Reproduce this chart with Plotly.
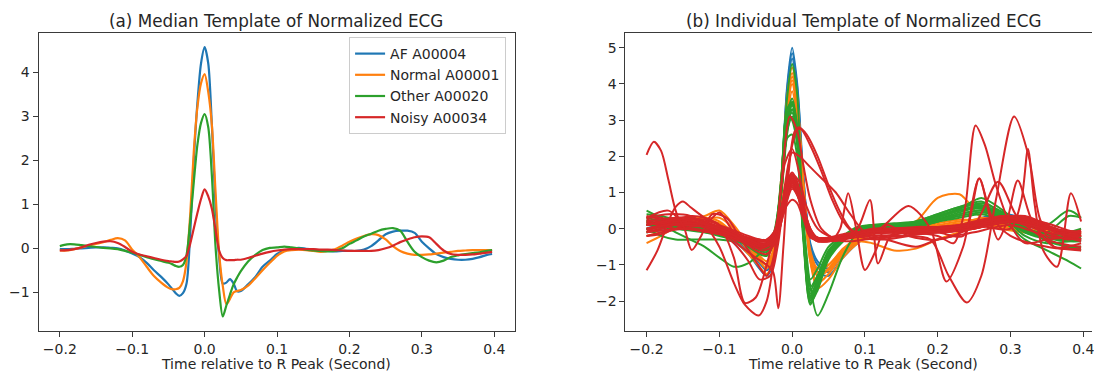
import plotly.graph_objects as go

# ---------------- (a) median templates ----------------
t_median = [-0.2, -0.19, -0.18, -0.17, -0.16, -0.15, -0.14, -0.13, -0.12, -0.11, -0.1, -0.09, -0.08, -0.07, -0.06, -0.05,
            -0.045, -0.04, -0.035, -0.03, -0.025, -0.02, -0.015, -0.01, -0.005,
            0.0, 0.005, 0.01, 0.015, 0.02, 0.025, 0.03, 0.035, 0.04, 0.045, 0.05,
            0.06, 0.07, 0.08, 0.09, 0.1, 0.11, 0.12, 0.13, 0.14, 0.15, 0.16, 0.17, 0.18, 0.19, 0.2, 0.21, 0.22,
            0.23, 0.24, 0.25, 0.26, 0.27, 0.28, 0.29, 0.3, 0.31, 0.32, 0.33, 0.34, 0.35, 0.36, 0.37, 0.38, 0.39,
            0.397]

af_median = [-0.02, -0.02, -0.01, 0.0, 0.01, 0.02, 0.02, 0.01, 0.0, -0.05, -0.12, -0.2, -0.33, -0.5, -0.65, -0.82,
             -0.92, -1.02, -1.08, -1.02, -0.8, 0.3, 2.0, 3.3, 4.2,
             4.57, 4.2, 2.8, 1.0, -0.2, -0.8, -0.78, -0.7, -0.8, -0.98, -0.97,
             -0.82, -0.65, -0.42, -0.28, -0.13, -0.05, -0.02, 0.01, -0.01, -0.03, -0.05, -0.06, -0.07, -0.06, -0.06,
             -0.06, -0.03, 0.05, 0.18, 0.32, 0.38, 0.4, 0.4, 0.35, 0.15, 0.0, -0.13, -0.2, -0.24, -0.26, -0.26,
             -0.24, -0.2, -0.15,
             -0.13]

normal_median = [-0.05, -0.05, -0.02, 0.02, 0.06, 0.1, 0.14, 0.19, 0.23, 0.18, -0.03, -0.2, -0.42, -0.63, -0.78, -0.9,
                 -0.93, -0.93, -0.9, -0.75, -0.3, 0.75, 2.2, 3.2, 3.75,
                 3.96, 3.55, 2.8, 1.3, -0.1, -0.85, -1.27, -1.15, -1.0, -0.97, -0.95,
                 -0.85, -0.68, -0.5, -0.33, -0.17, -0.07, -0.04, -0.03, -0.04, -0.06, -0.08, -0.06, -0.02, 0.06, 0.15,
                 0.22, 0.28, 0.32, 0.3, 0.2, 0.05, -0.06, -0.12, -0.15, -0.15, -0.14, -0.12, -0.1, -0.08, -0.06,
                 -0.05, -0.04, -0.04, -0.04,
                 -0.04]

other_median = [0.05, 0.09, 0.09, 0.07, 0.05, 0.03, 0.01, 0.0, -0.02, -0.06, -0.1, -0.15, -0.2, -0.25, -0.29, -0.33,
                -0.36, -0.4, -0.42, -0.38, -0.15, 0.6, 1.5, 2.35, 2.85,
                3.05, 2.75, 1.65, 0.05, -0.95, -1.55, -1.3, -1.05, -0.82, -0.66, -0.52,
                -0.3, -0.15, -0.04, 0.01, 0.02, 0.04, 0.02, 0.0, -0.03, -0.05, -0.06, -0.07, -0.06, 0.0, 0.1,
                0.18, 0.27, 0.33, 0.4, 0.44, 0.46, 0.4, 0.15, -0.08, -0.2, -0.28, -0.32, -0.28, -0.2, -0.16,
                -0.13, -0.11, -0.09, -0.06,
                -0.04]

noisy_median = [-0.05, -0.04, -0.02, 0.02, 0.08, 0.12, 0.15, 0.16, 0.12, 0.03, -0.08, -0.14, -0.18, -0.22, -0.26, -0.29,
                -0.3, -0.31, -0.3, -0.25, -0.17, 0.1, 0.45, 0.8, 1.12,
                1.34, 1.18, 0.9, 0.42, -0.05, -0.22, -0.27, -0.27, -0.27, -0.26, -0.26,
                -0.22, -0.17, -0.12, -0.08, -0.05, -0.03, -0.02, -0.02, -0.02, -0.02, -0.03, -0.03, -0.04, -0.05, -0.06,
                -0.06, -0.06, -0.06, -0.04, 0.0, 0.06, 0.14, 0.2, 0.25, 0.27, 0.25, 0.1, -0.05, -0.13, -0.15,
                -0.15, -0.14, -0.12, -0.1,
                -0.08]

median_labels = ["AF A00004", "Normal A00001", "Other A00020", "Noisy A00034"]

# ---------------- (b) individual beat templates ----------------
t_beat = [-0.2, -0.18, -0.16, -0.14, -0.12, -0.1, -0.08, -0.06,
          -0.045, -0.035, -0.025, -0.015, -0.007, 0.0, 0.007, 0.015,
          0.025, 0.035, 0.05, 0.07, 0.09, 0.11, 0.14, 0.17,
          0.2, 0.23, 0.26, 0.29, 0.32, 0.35, 0.38, 0.397]

af_beats = [
    [0.1, 0.05, 0.0, 0.0, -0.05, -0.15, -0.35, -0.7, -1.1, -1.3, -0.9, 1.2, 3.9, 5.0, 4.0, 1.6,
     -0.6, -1.2, -1.3, -0.8, -0.4, -0.15, 0.0, 0.05, 0.0, 0.05, 0.3, 0.42, 0.25, -0.2, -0.3, -0.25],
    [-0.1, -0.05, 0.0, 0.05, 0.0, -0.1, -0.3, -0.6, -0.95, -1.15, -0.8, 1.0, 3.6, 4.7, 3.7, 1.4,
     -0.5, -1.0, -1.2, -0.7, -0.35, -0.1, 0.0, 0.0, -0.05, 0.0, 0.2, 0.35, 0.3, 0.0, -0.3, -0.35],
    [0.0, 0.1, 0.05, 0.0, -0.05, -0.12, -0.3, -0.55, -0.85, -1.0, -0.6, 1.3, 3.8, 4.85, 3.9, 1.5,
     -0.4, -0.9, -1.1, -0.6, -0.3, -0.1, 0.05, 0.05, 0.0, 0.1, 0.25, 0.38, 0.15, -0.15, -0.25, -0.2],
]

normal_beats = [
    [-0.4, -0.2, 0.05, 0.2, 0.3, 0.1, -0.3, -0.7, -1.05, -1.25, -0.8, 1.2, 3.6, 4.45, 3.6, 1.3,
     -0.9, -1.65, -1.4, -0.8, -0.4, -0.15, -0.05, 0.0, 0.05, 0.15, 0.1, 0.0, -0.1, -0.15, -0.2, -0.2],
    [-0.1, 0.0, 0.1, 0.15, 0.2, 0.0, -0.25, -0.5, -0.75, -0.9, -0.6, 1.0, 3.2, 4.0, 3.2, 1.1,
     -0.8, -1.3, -1.1, -0.6, -0.2, 0.0, 0.0, 0.2, 0.85, 0.95, 0.3, 0.0, -0.1, -0.15, -0.15, -0.1],
    [0.1, 0.15, 0.2, 0.25, 0.35, 0.5, 0.1, -0.45, -0.8, -1.0, -0.7, 0.8, 3.0, 3.8, 3.0, 1.0,
     -0.7, -1.2, -1.0, -0.6, -0.35, -0.4, -0.6, -0.55, -0.3, -0.1, 0.05, 0.1, 0.0, -0.1, -0.1, -0.1],
    [0.0, 0.05, 0.1, 0.15, 0.2, 0.15, -0.1, -0.4, -0.65, -0.75, -0.4, 1.4, 3.4, 4.2, 3.5, 1.4,
     -0.6, -1.1, -1.0, -0.55, -0.25, -0.05, 0.0, 0.0, 0.1, 0.2, 0.25, 0.1, -0.05, -0.1, -0.15, -0.15],
    [0.2, 0.1, 0.15, 0.25, 0.3, 0.2, -0.15, -0.6, -0.9, -1.1, -0.7, 1.1, 3.3, 4.1, 3.3, 1.2,
     -0.9, -1.5, -1.25, -0.7, -0.35, -0.1, 0.0, 0.0, 0.15, 0.25, 0.2, 0.05, -0.05, -0.05, -0.1, -0.1],
    [-0.2, -0.1, 0.0, 0.1, 0.25, 0.3, 0.0, -0.5, -0.85, -1.0, -0.5, 1.3, 3.5, 4.3, 3.4, 1.3,
     -0.7, -1.3, -1.15, -0.65, -0.3, -0.1, -0.05, 0.0, 0.05, 0.1, 0.3, 0.2, 0.0, -0.1, -0.2, -0.2],
]

other_beats = [
    [0.5, 0.3, 0.1, 0.0, -0.1, -0.2, -0.3, -0.4, -0.5, -0.55, -0.2, 1.4, 3.6, 4.55, 3.7, 0.2,
     -1.9, -1.5, -0.7, -0.3, 0.0, 0.1, 0.1, 0.2, 0.4, 0.6, 0.75, 0.4, -0.1, -0.3, -0.5, -0.5],
    [0.1, 0.1, 0.05, 0.0, -0.05, -0.15, -0.25, -0.35, -0.45, -0.5, -0.2, 1.0, 2.6, 3.3, 2.5, 0.4,
     -1.6, -2.4, -1.8, -0.75, -0.1, 0.05, 0.05, 0.1, 0.3, 0.5, 0.6, 0.3, -0.1, -0.2, -0.2, -0.15],
    [0.2, 0.1, -0.1, -0.3, -0.5, -0.8, -1.05, -0.95, -0.7, -0.5, -0.2, 1.0, 2.8, 3.5, 2.8, 0.0,
     -1.6, -1.3, -0.6, -0.2, 0.05, 0.1, 0.1, 0.15, 0.35, 0.55, 0.85, 0.5, 0.0, -0.3, -0.5, -0.5],
    [0.0, -0.2, -0.3, -0.3, -0.3, -0.3, -0.35, -0.4, -0.45, -0.45, -0.1, 1.2, 3.0, 3.45, 2.7, 0.1,
     -1.85, -1.4, -0.7, -0.25, 0.0, 0.05, 0.0, 0.05, 0.2, 0.3, 0.4, 0.2, -0.3, -0.6, -0.9, -1.1],
    [0.3, 0.2, 0.1, 0.1, 0.05, -0.05, -0.2, -0.35, -0.5, -0.6, -0.25, 1.1, 2.9, 3.3, 2.6, 0.0,
     -2.0, -1.5, -0.7, -0.3, -0.05, 0.05, 0.05, 0.15, 0.35, 0.5, 0.55, 0.3, 0.0, -0.1, 0.35, 0.3],
    [0.1, 0.2, 0.15, 0.05, 0.0, -0.1, -0.25, -0.45, -0.6, -0.65, -0.3, 1.3, 3.2, 3.0, 2.3, -0.2,
     -2.1, -1.6, -0.8, -0.35, -0.05, 0.1, 0.1, 0.1, 0.25, 0.45, 0.6, 0.35, 0.05, 0.1, 0.5, 0.3],
    [-0.1, 0.0, 0.1, 0.1, 0.0, -0.1, -0.2, -0.3, -0.4, -0.45, -0.15, 1.0, 2.5, 2.6, 2.0, 0.0,
     -1.4, -1.1, -0.5, -0.2, 0.0, 0.05, 0.05, 0.1, 0.25, 0.4, 0.5, 0.25, -0.05, -0.25, -0.3, -0.3],
    [0.2, 0.25, 0.2, 0.1, 0.0, -0.1, -0.25, -0.5, -0.7, -0.75, -0.35, 1.3, 3.3, 3.5, 2.6, 0.0,
     -2.05, -1.7, -0.85, -0.35, -0.05, 0.05, 0.05, 0.1, 0.3, 0.55, 0.7, 0.45, 0.05, -0.35, -0.5, -0.6],
    [0.0, 0.05, 0.05, 0.0, -0.05, -0.15, -0.3, -0.4, -0.55, -0.6, -0.25, 1.2, 3.0, 3.2, 2.5, 0.0,
     -1.7, -1.3, -0.65, -0.25, 0.0, 0.05, 0.0, 0.05, 0.2, 0.35, 0.45, 0.3, -0.2, -0.4, -0.35, -0.3],
    [0.4, 0.35, 0.25, 0.15, 0.05, -0.05, -0.2, -0.35, -0.45, -0.5, -0.2, 1.1, 2.8, 3.4, 2.7, 0.1,
     -1.8, -1.45, -0.7, -0.3, 0.0, 0.1, 0.15, 0.2, 0.4, 0.6, 0.65, 0.35, -0.1, -0.2, -0.1, 0.0],
    [0.15, 0.15, 0.1, 0.05, 0.0, -0.1, -0.2, -0.35, -0.5, -0.55, -0.25, 1.15, 3.1, 3.6, 2.8, 0.0,
     -1.95, -1.55, -0.75, -0.3, -0.05, 0.05, 0.1, 0.15, 0.3, 0.5, 0.65, 0.4, 0.0, -0.25, -0.35, -0.35],
    [0.25, 0.1, 0.0, -0.05, -0.1, -0.15, -0.25, -0.4, -0.55, -0.6, -0.3, 1.0, 2.7, 3.1, 2.4, -0.1,
     -1.9, -1.5, -0.7, -0.3, -0.05, 0.0, 0.0, 0.05, 0.2, 0.4, 0.5, 0.35, 0.0, -0.15, -0.25, -0.25],
]

noisy_beats = [
    [0.0, 0.1, 0.2, 0.2, 0.1, -0.05, -0.2, -0.3, -0.4, -0.4, -0.2, 0.5, 1.2, 1.5, 1.2, 0.4,
     -0.2, -0.3, -0.3, -0.2, -0.1, -0.05, 0.0, 0.0, 0.0, 0.05, 0.2, 0.3, 0.2, 0.0, -0.1, -0.15],
    [0.3, 0.3, 0.2, 0.15, 0.1, 0.0, -0.15, -0.3, -0.35, -0.35, -0.15, 0.4, 1.0, 1.3, 1.1, 0.5,
     -0.1, -0.3, -0.35, -0.25, -0.1, 0.0, 0.0, -0.05, -0.05, 0.0, 0.15, 0.25, 0.3, 0.1, -0.1, -0.1],
    [-0.2, -0.15, 0.0, 0.1, 0.05, -0.1, -0.25, -0.4, -0.5, -0.5, -0.25, 0.3, 0.9, 1.2, 1.0, 0.4,
     -0.15, -0.3, -0.3, -0.2, -0.15, -0.1, -0.1, -0.1, -0.1, -0.05, 0.1, 0.2, 0.25, 0.05, -0.2, -0.3],
    [0.1, 0.2, 0.3, 0.3, 0.2, 0.05, -0.1, -0.25, -0.35, -0.3, -0.1, 0.6, 1.3, 1.55, 1.3, 0.6,
     0.0, -0.25, -0.3, -0.2, -0.1, -0.05, 0.0, 0.05, 0.05, 0.1, 0.2, 0.35, 0.25, 0.0, -0.15, -0.2],
    [-0.1, 0.0, 0.1, 0.15, 0.1, 0.0, -0.15, -0.25, -0.3, -0.3, -0.1, 0.3, 0.65, 0.8, 0.7, 0.3,
     -0.1, -0.25, -0.25, -0.15, -0.1, -0.05, -0.05, 0.0, 0.0, 0.05, 0.15, 0.25, 0.2, 0.0, -0.1, -0.05],
    [0.35, 0.25, 0.1, 0.0, -0.05, -0.1, -0.25, -0.45, -0.55, -0.5, -0.2, 0.5, 1.1, 1.4, 1.2, 0.6,
     0.0, -0.3, -0.35, -0.3, -0.15, -0.1, -0.05, 0.0, 0.0, 0.0, 0.1, 0.3, 0.35, 0.1, -0.2, -0.3],
    [0.2, 0.1, 0.0, 0.05, 0.1, 0.45, -0.1, -0.3, -0.45, -0.45, -0.25, 0.4, 1.0, 1.25, 1.05, 0.45,
     -0.1, -0.3, -0.3, -0.25, -0.1, -0.05, -0.1, -0.15, -0.1, -0.05, 0.05, 0.2, 0.2, -0.1, -0.3, -0.2],
    [0.25, 0.2, 0.25, 0.35, 0.3, 0.1, -0.15, -0.35, -0.45, -0.4, -0.2, 0.35, 0.95, 1.15, 0.95, 0.35,
     -0.2, -0.35, -0.35, -0.25, -0.15, -0.1, -0.05, -0.05, -0.05, 0.0, 0.1, 0.25, 0.3, 0.15, -0.05, -0.15],
    [-0.05, 0.05, 0.15, 0.25, 0.25, 0.1, -0.05, -0.2, -0.3, -0.35, -0.15, 0.45, 1.1, 1.35, 1.15, 0.5,
     -0.1, -0.25, -0.25, -0.2, -0.1, -0.05, 0.0, 0.0, 0.05, 0.1, 0.25, 0.35, 0.3, 0.05, -0.1, -0.2],
    [0.15, 0.15, 0.1, 0.1, 0.05, -0.05, -0.2, -0.35, -0.4, -0.4, -0.2, 0.55, 1.2, 1.45, 1.25, 0.5,
     -0.15, -0.35, -0.3, -0.2, -0.1, -0.1, -0.05, -0.05, -0.1, -0.05, 0.05, 0.15, 0.2, 0.0, -0.25, -0.35],
]

# noisy beats with irregular shapes, each on its own time knots
noisy_irregular_t = [
    [-0.2, -0.19, -0.18, -0.17, -0.16, -0.15, -0.13, -0.1, -0.08, -0.06, -0.045, -0.035, -0.025, -0.015, -0.007,
     0.0, 0.007, 0.015, 0.025, 0.035, 0.05, 0.08, 0.11, 0.15, 0.2, 0.25, 0.3, 0.35, 0.397],
    [-0.2, -0.185, -0.17, -0.16, -0.15, -0.14, -0.12, -0.1, -0.08, -0.065, -0.05, -0.035, -0.02, -0.01, 0.0,
     0.01, 0.02, 0.03, 0.05, 0.08, 0.12, 0.16, 0.19, 0.212, 0.235, 0.257, 0.275, 0.3, 0.35, 0.397],
    [-0.2, -0.17, -0.14, -0.12, -0.1, -0.08, -0.065, -0.046, -0.035, -0.025, -0.015, -0.003, 0.007, 0.015,
     0.025, 0.04, 0.06, 0.08, 0.1, 0.13, 0.16, 0.2, 0.24, 0.27, 0.3, 0.33, 0.36, 0.397],
    [-0.2, -0.16, -0.13, -0.1, -0.08, -0.06, -0.045, -0.03, -0.02, -0.01, 0.0, 0.009, 0.02, 0.035, 0.05,
     0.065, 0.08, 0.1, 0.12, 0.15, 0.2, 0.25, 0.3, 0.35, 0.397],
    [-0.2, -0.15, -0.1, -0.07, -0.05, -0.035, -0.026, -0.019, -0.012, -0.005, 0.004, 0.012, 0.025, 0.04,
     0.055, 0.07, 0.09, 0.12, 0.16, 0.2, 0.25, 0.3, 0.35, 0.397],
    [-0.2, -0.15, -0.1, -0.06, -0.04, -0.025, -0.012, 0.0, 0.012, 0.025, 0.04, 0.07, 0.1, 0.15, 0.2,
     0.222, 0.237, 0.252, 0.265, 0.28, 0.3, 0.32, 0.35, 0.397],
    [-0.2, -0.15, -0.1, -0.06, -0.04, -0.025, -0.012, 0.0, 0.012, 0.025, 0.04, 0.07, 0.1, 0.15, 0.19,
     0.215, 0.24, 0.26, 0.28, 0.305, 0.325, 0.34, 0.36, 0.397],
    [-0.2, -0.15, -0.1, -0.06, -0.04, -0.025, -0.012, 0.0, 0.012, 0.025, 0.04, 0.07, 0.1, 0.15, 0.2,
     0.25, 0.3, 0.315, 0.324, 0.333, 0.345, 0.364, 0.383, 0.397],
    [-0.2, -0.15, -0.1, -0.06, -0.04, -0.025, -0.012, 0.0, 0.012, 0.025, 0.04, 0.07, 0.1, 0.15, 0.2,
     0.235, 0.257, 0.272, 0.283, 0.295, 0.31, 0.33, 0.36, 0.397],
    [-0.2, -0.15, -0.1, -0.06, -0.04, -0.025, -0.012, 0.0, 0.012, 0.025, 0.04, 0.055, 0.066, 0.077, 0.088,
     0.1, 0.115, 0.13, 0.16, 0.2, 0.25, 0.283, 0.31, 0.35, 0.397],
    [-0.2, -0.17, -0.15, -0.138, -0.125, -0.11, -0.09, -0.07, -0.05, -0.035, -0.02, -0.01, 0.0, 0.01, 0.02,
     0.035, 0.05, 0.07, 0.09, 0.107, 0.118, 0.135, 0.16, 0.2, 0.25, 0.3, 0.35, 0.397],
    [-0.2, -0.15, -0.1, -0.07, -0.05, -0.035, -0.02, -0.01, 0.0, 0.01, 0.025, 0.04, 0.06, 0.08, 0.1,
     0.13, 0.17, 0.2, 0.25, 0.3, 0.35, 0.397],
]
noisy_irregular_v = [
    [2.04, 2.4, 2.15, 1.35, 0.5, 0.05, -0.05, -0.15, -0.3, -0.4, -0.45, -0.4, -0.2, 0.4, 1.0,
     1.3, 1.1, 0.5, -0.1, -0.3, -0.3, -0.2, -0.1, -0.05, 0.0, 0.1, 0.2, 0.0, -0.1],
    [-1.15, -0.6, 0.2, 0.6, 0.75, 0.6, 0.3, 0.1, -0.8, -2.05, -1.9, -1.0, 0.3, 1.8, 2.2,
     1.5, 0.3, -0.2, -0.3, -0.2, 0.0, 0.63, 0.0, -1.46, -0.5, 1.39, 0.3, -0.2, -0.5, -0.6],
    [0.3, 0.4, 0.35, 0.1, -0.5, -1.5, -2.1, -2.4, -2.0, -0.8, 1.2, 3.1, 2.7, 1.8,
     0.8, 0.0, -0.3, -0.35, -0.3, -0.2, -0.1, 0.0, 0.1, 0.2, 0.3, 0.1, -0.2, -0.3],
    [0.1, 0.2, 0.1, -0.1, -0.4, -0.9, -1.4, -1.3, -0.5, 1.0, 2.3, 2.8, 2.6, 2.0, 1.2,
     0.5, 0.0, -0.2, -0.25, -0.2, -0.1, 0.0, 0.2, -0.1, -0.2],
    [0.2, 0.3, 0.0, -0.5, -0.8, -1.0, -1.2, -2.2, -0.5, 1.5, 2.7, 2.75, 2.3, 1.6,
     0.8, 0.2, -0.2, -0.3, -0.2, 0.0, 0.1, 0.2, 0.0, -0.1],
    [0.1, 0.2, -0.1, -0.4, -0.5, -0.4, 0.5, 1.45, 0.6, -0.25, -0.3, -0.25, -0.15, -0.1, -0.2,
     -0.4, 0.5, 2.85, 2.3, 1.2, 0.1, -0.4, -0.3, -0.2],
    [-0.2, 0.0, -0.1, -0.3, -0.45, -0.4, 0.4, 1.2, 0.7, -0.2, -0.35, -0.3, -0.2, -0.2, -0.3,
     -1.3, -2.04, -1.3, 0.8, 3.1, 2.0, 0.3, -0.5, -0.4],
    [0.15, 0.1, 0.0, -0.35, -0.5, -0.35, 0.6, 1.5, 0.9, -0.1, -0.3, -0.25, -0.15, -0.1, 0.0,
     0.1, 0.0, 0.8, 2.2, 0.7, -0.6, -1.05, 0.98, 0.2],
    [0.0, 0.15, 0.05, -0.3, -0.45, -0.3, 0.5, 1.35, 0.8, -0.15, -0.3, -0.25, -0.1, -0.05, -0.1,
     -0.2, 1.39, 0.3, -0.3, 0.2, 1.33, 0.2, -0.5, -0.55],
    [-0.1, 0.0, -0.15, -0.4, -0.6, -0.45, 0.4, 1.1, 0.7, -0.2, -0.35, -0.3, 0.0, 0.98, 0.0,
     -1.14, -0.6, 0.1, -0.2, -0.3, 0.1, 1.3, 0.3, -0.3, -0.5],
    [0.3, 0.5, 0.1, -0.59, -0.2, 0.4, 0.3, -0.3, -0.9, -1.3, -0.3, 0.9, 1.5, 1.3, 0.6,
     0.0, -0.2, -0.3, 0.0, 0.79, -0.96, -0.2, 0.0, -0.1, 0.0, 0.2, 0.0, -0.1],
    [0.1, 0.25, 0.0, -0.3, -0.6, -0.7, -0.2, 1.2, 2.1, 2.0, 1.7, 1.4, 1.0, 0.4, -0.1,
     -0.3, -0.5, -0.3, -0.1, 0.1, -0.2, -0.3],
]

x_ticks = [-0.2, -0.1, 0.0, 0.1, 0.2, 0.3, 0.4]
x_tick_text = ["\u22120.2", "\u22120.1", "0.0", "0.1", "0.2", "0.3", "0.4"]
y_ticks_a = [-1, 0, 1, 2, 3, 4]
y_ticks_b = [-2, -1, 0, 1, 2, 3, 4, 5]

AF_C, NORMAL_C, OTHER_C, NOISY_C = "#1f77b4", "#ff7f0e", "#2ca02c", "#d62728"
FONT = "DejaVu Sans"
TXT = "#262626"

fig = go.Figure()

# panel (a)
for label, vals, col in zip(median_labels, [af_median, normal_median, other_median, noisy_median],
                            [AF_C, NORMAL_C, OTHER_C, NOISY_C]):
    fig.add_trace(go.Scatter(x=t_median, y=vals, mode="lines", name=label,
                             line=dict(color=col, width=2.2, shape="spline", smoothing=0.8),
                             xaxis="x", yaxis="y", showlegend=True))

# panel (b)
def add_beat(t, v, col):
    fig.add_trace(go.Scatter(x=t, y=v, mode="lines", showlegend=False,
                             line=dict(color=col, width=2.0, shape="spline", smoothing=0.8),
                             xaxis="x2", yaxis="y2"))

for beat in af_beats:
    add_beat(t_beat, beat, AF_C)
for beat in normal_beats:
    add_beat(t_beat, beat, NORMAL_C)
for beat in other_beats:
    add_beat(t_beat, beat, OTHER_C)
for beat in noisy_beats:
    add_beat(t_beat, beat, NOISY_C)
for t, v in zip(noisy_irregular_t, noisy_irregular_v):
    add_beat(t, v, NOISY_C)

W, H = 1094, 373
y_dom = [1 - 330.7 / H, 1 - 33.3 / H]

axis_style = dict(showgrid=False, zeroline=False, showline=True, linecolor="#3a3a3a", linewidth=1,
                  ticks="outside", ticklen=5, tickwidth=1, tickcolor="#3a3a3a", ticklabeloverflow="allow",
                  tickfont=dict(family=FONT, size=14, color=TXT))

fig.update_layout(
    width=W, height=H,
    margin=dict(l=0, r=0, t=0, b=0),
    paper_bgcolor="white", plot_bgcolor="white",
    xaxis=dict(domain=[38.6 / W, 515.5 / W], range=[-0.2294, 0.428], tickvals=x_ticks, ticktext=x_tick_text,
               mirror=True, anchor="y", **axis_style),
    yaxis=dict(domain=y_dom, range=[-1.873, 4.886], tickvals=y_ticks_a,
               ticktext=[str(v).replace("-", "\u2212") for v in y_ticks_a],
               mirror=True, anchor="x", **axis_style),
    xaxis2=dict(domain=[626.6 / W, 1.0], range=[-0.229, 0.412], tickvals=x_ticks, ticktext=x_tick_text,
                mirror=True, anchor="y2", **axis_style),
    yaxis2=dict(domain=y_dom, range=[-2.818, 5.398], tickvals=y_ticks_b,
                ticktext=[str(v).replace("-", "\u2212") for v in y_ticks_b],
                mirror=False, anchor="x2", **axis_style),
    legend=dict(x=507 / W, xanchor="right", y=1 - 37 / H, yanchor="top",
                bgcolor="rgba(255,255,255,0.85)", bordercolor="#cccccc", borderwidth=1,
                font=dict(family=FONT, size=14, color=TXT), itemwidth=30),
    annotations=[
        dict(text="(a) Median Template of Normalized ECG", x=277 / W, y=1 - 20.7 / H, xref="paper", yref="paper",
             showarrow=False, xanchor="center", yanchor="middle", font=dict(family=FONT, size=16.8, color=TXT)),
        dict(text="(b) Individual Template of Normalized ECG", x=865 / W, y=1 - 20.7 / H, xref="paper", yref="paper",
             showarrow=False, xanchor="center", yanchor="middle", font=dict(family=FONT, size=16.8, color=TXT)),
        dict(text="Time relative to R Peak (Second)", x=277 / W, y=1 - 364 / H, xref="paper", yref="paper",
             showarrow=False, xanchor="center", yanchor="middle", font=dict(family=FONT, size=14, color=TXT)),
        dict(text="Time relative to R Peak (Second)", x=865 / W, y=1 - 364 / H, xref="paper", yref="paper",
             showarrow=False, xanchor="center", yanchor="middle", font=dict(family=FONT, size=14, color=TXT)),
    ],
)

fig.write_html("out.html")
